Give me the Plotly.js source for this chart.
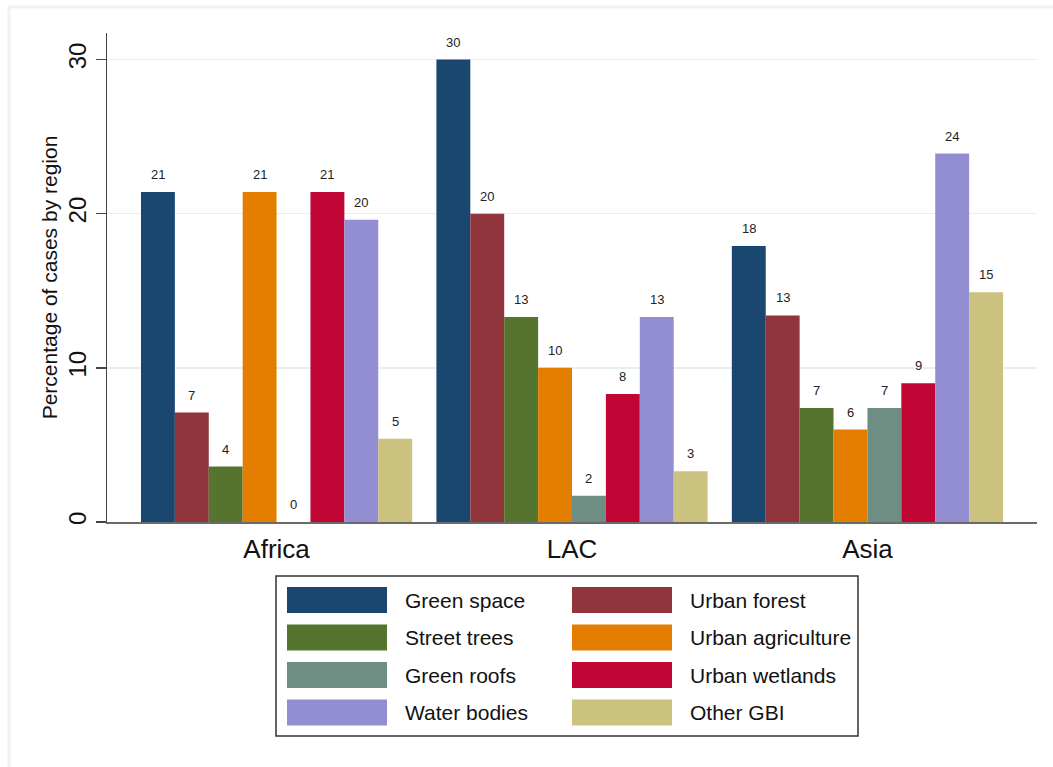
<!DOCTYPE html>
<html>
<head>
<meta charset="utf-8">
<script src="https://cdn.plot.ly/plotly-3.0.1.min.js"></script>
<style>html,body{margin:0;padding:0;background:#fff;}#chart{width:1053px;height:767px;}</style>
</head>
<body>
<div id="chart"></div>
<script>
// ---- data ----
const regions = ['Africa', 'LAC', 'Asia'];
const seriesNames = ['Green space', 'Urban forest', 'Street trees', 'Urban agriculture',
                     'Green roofs', 'Urban wetlands', 'Water bodies', 'Other GBI'];
const greenSpace       = [21.4, 30.0, 17.9];
const urbanForest      = [7.1, 20.0, 13.4];
const streetTrees      = [3.6, 13.3, 7.4];
const urbanAgriculture = [21.4, 10.0, 6.0];
const greenRoofs       = [0.0, 1.7, 7.4];
const urbanWetlands    = [21.4, 8.3, 9.0];
const waterBodies      = [19.6, 13.3, 23.9];
const otherGBI         = [5.4, 3.3, 14.9];
const yTickVals = [0, 10, 20, 30];
const yTickText = ['0', '10', '20', '30'];

const seriesValues = [greenSpace, urbanForest, streetTrees, urbanAgriculture,
                      greenRoofs, urbanWetlands, waterBodies, otherGBI];
const colors = ['#1a476f', '#90353b', '#55752f', '#e37e00',
                '#6e8e84', '#c10534', '#938dd2', '#cac27e'];

// ---- layout geometry ----
const FONT = 'Liberation Sans, Arial, Helvetica, sans-serif';
const WIDTH = 1053, HEIGHT = 767;
const M = {l: 107, r: 16, t: 33, b: 245};
const PW = WIDTH - M.l - M.r, PH = HEIGHT - M.t - M.b;
const px2x = p => (p - M.l) / PW;
const py2y = p => (HEIGHT - M.b - p) / PH;
const BARGAP = 0.082;
const nS = seriesNames.length;
const slot = (1 - BARGAP) / nS;

const traces = seriesNames.map((name, i) => ({
  type: 'bar',
  name: name,
  x: regions.map((r, j) => j),
  y: seriesValues[i],
  marker: {color: colors[i], line: {width: 0}},
  showlegend: false,
  hoverinfo: 'skip'
}));

const annotations = [];
// value labels above bars
seriesValues.forEach((vals, i) => {
  vals.forEach((v, j) => {
    annotations.push({
      xref: 'x', yref: 'y',
      x: j + (i - (nS - 1) / 2) * slot,
      y: v,
      text: String(Math.round(v)),
      showarrow: false,
      yanchor: 'bottom',
      yshift: 8,
      font: {family: FONT, size: 13, color: '#222'}
    });
  });
});

const shapes = [];
// outer graph-region edge (only left and top visible)
shapes.push({type: 'line', xref: 'paper', yref: 'paper',
  x0: px2x(9), x1: px2x(1060), y0: py2y(7), y1: py2y(7),
  line: {color: '#edf3f4', width: 3}});
shapes.push({type: 'line', xref: 'paper', yref: 'paper',
  x0: px2x(9), x1: px2x(9), y0: py2y(7), y1: py2y(775),
  line: {color: '#edf3f4', width: 3}});

// custom legend
const LG = {x0: 276, y0: 576, x1: 858, y1: 736};
shapes.push({type: 'rect', xref: 'paper', yref: 'paper',
  x0: px2x(LG.x0), x1: px2x(LG.x1), y0: py2y(LG.y0), y1: py2y(LG.y1),
  line: {color: '#333', width: 1.5}, fillcolor: 'rgba(0,0,0,0)'});
const colSw = [287, 572], swW = 100, colTx = [403, 688];
const rowTop0 = 587, rowStep = 37.5, swH = 26;
seriesNames.forEach((name, i) => {
  const c = i % 2, r = Math.floor(i / 2);
  const top = rowTop0 + r * rowStep;
  shapes.push({type: 'rect', xref: 'paper', yref: 'paper',
    x0: px2x(colSw[c]), x1: px2x(colSw[c] + swW),
    y0: py2y(top), y1: py2y(top + swH),
    line: {width: 0}, fillcolor: colors[i]});
  annotations.push({xref: 'paper', yref: 'paper',
    x: px2x(colTx[c]), y: py2y(top + swH / 2),
    xanchor: 'left', yanchor: 'middle', showarrow: false,
    text: name, font: {family: FONT, size: 21, color: '#111'}});
});

const layout = {
  width: WIDTH, height: HEIGHT,
  margin: M,
  paper_bgcolor: '#fff', plot_bgcolor: '#fff',
  barmode: 'group', bargap: BARGAP, bargroupgap: 0,
  font: {family: FONT, color: '#222'},
  xaxis: {
    range: [-0.574, 2.574],
    tickvals: [0, 1, 2], ticktext: regions,
    showline: true, linecolor: '#6a6a6a', linewidth: 2,
    ticks: '', showgrid: false, zeroline: false,
    tickfont: {family: FONT, size: 26, color: '#111'},
    ticklabelstandoff: 3
  },
  yaxis: {
    range: [0, 31.72],
    tickvals: yTickVals, ticktext: yTickText,
    tickangle: -90,
    ticks: 'outside', ticklen: 10, tickwidth: 1.5, tickcolor: '#444',
    showline: true, linecolor: '#444', linewidth: 1.5,
    showgrid: true, gridcolor: '#e6f0f2', gridwidth: 1.5,
    zeroline: false,
    tickfont: {family: FONT, size: 24, color: '#111'},
    ticklabelstandoff: 0,
    title: {text: 'Percentage of cases by region', font: {family: FONT, size: 21, color: '#111'}, standoff: 0}
  },
  annotations: annotations,
  shapes: shapes
};

Plotly.newPlot('chart', traces, layout, {displayModeBar: false, staticPlot: true});
</script>
</body>
</html>
